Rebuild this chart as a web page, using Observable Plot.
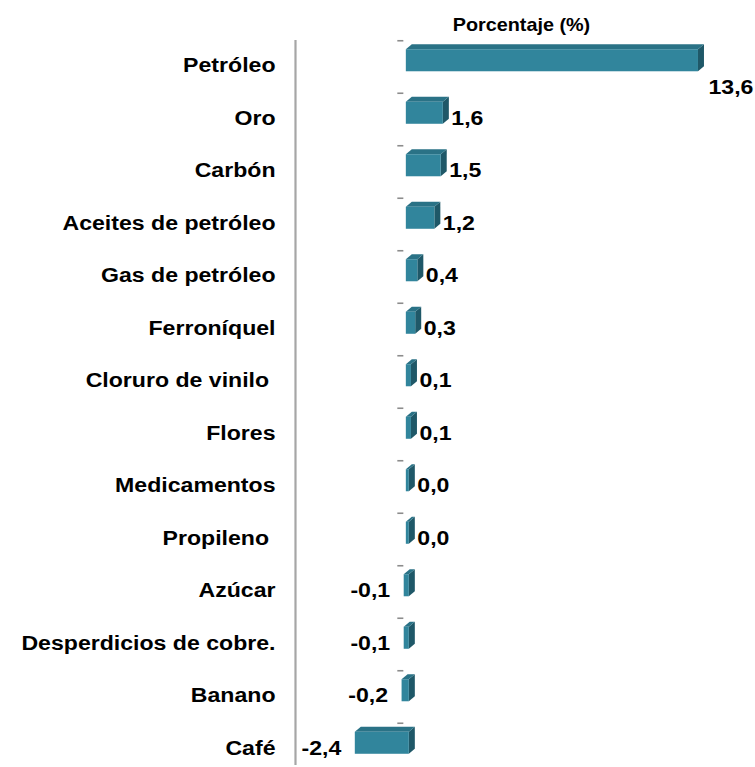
<!DOCTYPE html>
<html>
<head>
<meta charset="utf-8">
<script src="https://cdn.jsdelivr.net/npm/d3@7"></script>
<script src="https://cdn.jsdelivr.net/npm/@observablehq/plot@0.6"></script>
<style>
  html, body { margin: 0; padding: 0; background: #fff; }
  svg text { white-space: pre; }
</style>
</head>
<body>
<div id="chart"></div>
<script>
const title = "Porcentaje (%)";
const categories = [
  "Petróleo", "Oro", "Carbón", "Aceites de petróleo", "Gas de petróleo",
  "Ferroníquel", "Cloruro de vinilo ", "Flores", "Medicamentos", "Propileno ",
  "Azúcar", "Desperdicios de cobre.", "Banano", "Café"
];
const values = [13.6, 1.6, 1.5, 1.2, 0.4, 0.3, 0.1, 0.1, 0.0, 0.0, -0.1, -0.1, -0.2, -2.4];
const xDomain = [-5.26, 16];

const data = categories.map((c, i) => ({category: c, value: values[i]}));
const fmt = v => v.toFixed(1).replace(".", ",");
const maxVal = d3.max(values);

const dash = {
  draw(context, size) {
    const w = Math.sqrt(size);
    context.moveTo(-w, 0);
    context.lineTo(w, 0);
  }
};

const font = "'Liberation Sans', Arial, sans-serif";
const fs = 21;

const chart = Plot.plot({
  width: 755,
  height: 767,
  marginLeft: 295,
  marginRight: 8,
  marginTop: 34,
  marginBottom: 0,
  style: {fontFamily: font, fontWeight: "bold", color: "#000", background: "#fff"},
  x: {domain: xDomain, axis: null},
  y: {domain: categories, axis: null, range: [37, 772], round: false, paddingInner: 0.58, paddingOuter: 0.29},
  marks: [
    Plot.ruleX([xDomain[0]], {stroke: "#a6a6a6", strokeWidth: 2.2, insetTop: 6, insetBottom: 2}),
    Plot.dot(categories, {x: () => 0, y: d => d, symbol: dash, r: 1.7, stroke: "#8c8c8c", strokeWidth: 1.6, dx: -7, dy: -23}),
    Plot.barX(data, {x1: 0, x2: "value", y: "category", fill: "#31859c", insetLeft: -1, insetRight: -2, dy: -3}),
    Plot.text(categories, {y: d => d, text: d => d, frameAnchor: "left", textAnchor: "end", dx: -20, dy: 2, fontSize: fs, fontWeight: "bold", fill: "#000"}),
    Plot.text(data.filter(d => d.value >= 0 && d.value !== maxVal), {x: "value", y: "category", text: d => fmt(d.value), textAnchor: "start", dx: 10, dy: 2, fontSize: fs, fontWeight: "bold", fill: "#000"}),
    Plot.text(data.filter(d => d.value === maxVal), {x: "value", y: "category", text: d => fmt(d.value), textAnchor: "start", dx: 12, dy: 24, fontSize: fs, fontWeight: "bold", fill: "#000"}),
    Plot.text(data.filter(d => d.value < 0), {x: "value", y: "category", text: d => fmt(d.value), textAnchor: "end", dx: -15, dy: 2, fontSize: fs, fontWeight: "bold", fill: "#000"}),
    Plot.text([title], {frameAnchor: "top", text: d => d, dy: -16, fontSize: 18, fontWeight: "bold", fill: "#000"})
  ]
});

// 3D faces derived from the rendered bars
const depthX = 6, depthY = -5;
const ns = "http://www.w3.org/2000/svg";
chart.querySelectorAll('g[aria-label="bar"] rect').forEach(rect => {
  const x = +rect.getAttribute("x"), y = +rect.getAttribute("y");
  const w = +rect.getAttribute("width"), h = +rect.getAttribute("height");
  const g = rect.parentNode;
  const top = document.createElementNS(ns, "polygon");
  top.setAttribute("points", [[x, y], [x + depthX, y + depthY], [x + w + depthX, y + depthY], [x + w, y]].join(" "));
  top.setAttribute("fill", "#2a7286");
  const side = document.createElementNS(ns, "polygon");
  side.setAttribute("points", [[x + w, y], [x + w + depthX, y + depthY], [x + w + depthX, y + h + depthY], [x + w, y + h]].join(" "));
  side.setAttribute("fill", "#1f5868");
  g.insertBefore(side, rect);
  g.insertBefore(top, rect);
});

// Slight horizontal stretch of the text, as in the reference
chart.querySelectorAll("text").forEach(t => {
  const tr = t.getAttribute("transform");
  if (tr) t.setAttribute("transform", tr + " scale(1.1,1)");
});

document.getElementById("chart").appendChild(chart);
</script>
</body>
</html>
